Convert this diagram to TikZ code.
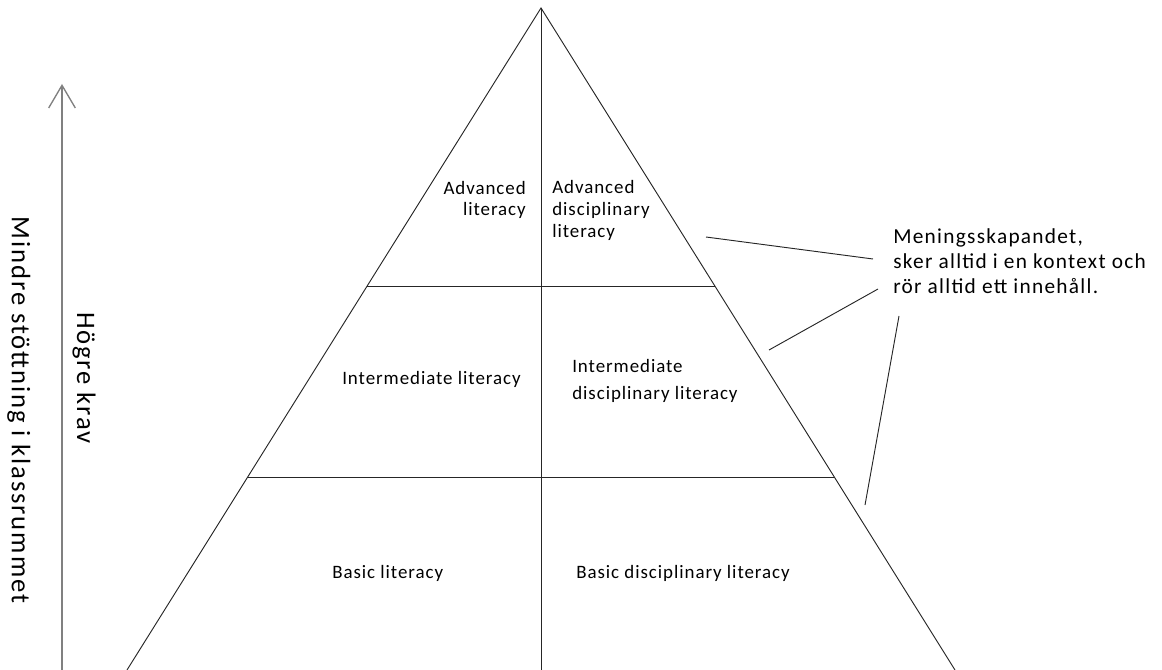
\documentclass[tikz,border=0pt]{standalone}
\usepackage{fontspec}
\setmainfont{Carlito}
\newfontfamily\labelfont{Carlito}[LetterSpace=5]
\newfontfamily\notefont{Carlito}[LetterSpace=6]
\newfontfamily\axisfont{Carlito}[LetterSpace=7]
\usetikzlibrary{arrows.meta,calc}

\tikzset{
    edge/.style={draw=black!85,line width=0.7pt},
    callout/.style={draw=black!85,line width=0.7pt},
    axis/.style={draw=black!50,line width=1pt,-{Straight Barb[length=17pt,width=20pt]}},
    lvl/.style={inner sep=0pt,font=\labelfont\fontsize{14.2}{16.5}\selectfont},
}

\begin{document}
\begin{tikzpicture}[x=0.75pt,y=-0.75pt]
    \useasboundingbox (0,0) rectangle (1162,670);
    % pyramid
    \coordinate (top) at (541,8);
    \coordinate (bl) at (127,670);
    \coordinate (br) at (955,670);
    \coordinate (bm) at (541,670);
    \draw[edge] (bl) -- (top) -- (br);
    \draw[edge] (top) -- (bm);
    \foreach \t/\name in {.42/upper,.7085/lower}{
        \coordinate (\name L) at ($(top)!\t!(bl)$);
        \coordinate (\name R) at ($(top)!\t!(br)$);
        \draw[edge] (\name L) -- (\name R);
    }

    % level texts (base = last line)
    \node[lvl,anchor=base east,align=right] (advL) at (526,216) {Advanced\\literacy};
    \node[lvl,anchor=base west,align=left] (advR) at (552,238) {Advanced\\disciplinary\\literacy};
    \node[lvl,anchor=base west] (intL) at (342,384) {Intermediate literacy};
    \node[lvl,anchor=base west,align=left,font=\labelfont\fontsize{14.2}{20}\selectfont] (intR) at (572,399) {Intermediate\\disciplinary literacy};
    \node[lvl,anchor=base west] (basL) at (332,578) {Basic literacy};
    \node[lvl,anchor=base west] (basR) at (576,578) {Basic disciplinary literacy};

    % vertical axis
    \coordinate (a0) at (62,670);
    \coordinate (a1) at (62,84);
    \draw[axis] (a0) -- (a1);
    \node[rotate=-90,anchor=base,inner sep=0pt,font=\axisfont\fontsize{20}{24}\selectfont] (less) at (12,410) {Mindre stöttning i klassrummet};
    \node[rotate=-90,anchor=base,inner sep=0pt,font=\axisfont\fontsize{20}{24}\selectfont] (more) at (77,378) {Högre krav};

    % note with callouts
    \node[anchor=base west,align=left,inner sep=0pt,font=\notefont\fontsize{16}{18.4}\selectfont] (note) at (893,293)
        {Meningsskapandet,\\sker alltid i en kontext och\\rör alltid ett innehåll.};
    \foreach \x/\y/\u/\v/\name in {706/237/873/259/c1,769/350/878/289/c2,865/505/899/316/c3}{
        \coordinate (\name a) at (\x,\y);
        \coordinate (\name b) at (\u,\v);
        \draw[callout] (\name a) -- (\name b);
    }
\end{tikzpicture}
\end{document}
